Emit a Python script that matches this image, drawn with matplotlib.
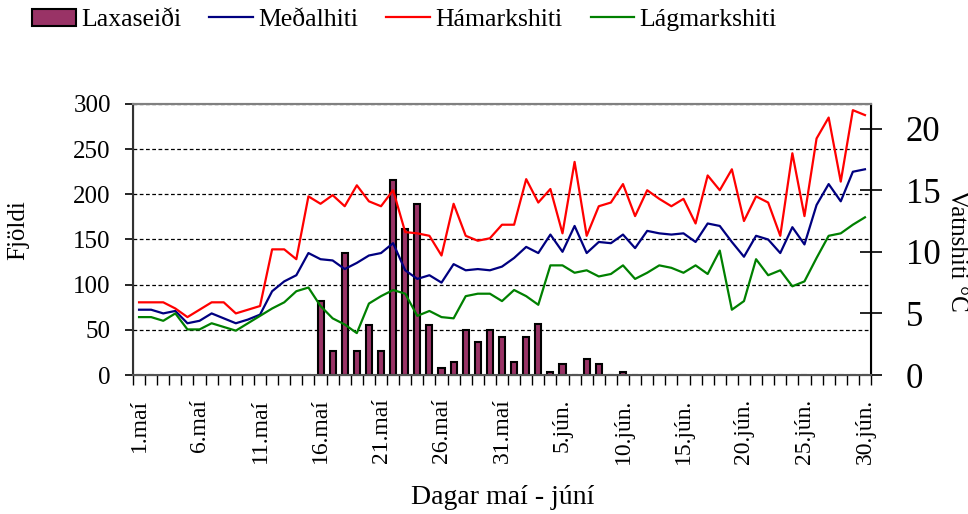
import numpy as np
import matplotlib
matplotlib.use("Agg")
import matplotlib.pyplot as plt

plt.rcParams['font.family'] = ['Liberation Serif', 'DejaVu Serif']

# --- data ---
day_labels = ["1.maí", "6.maí", "11.maí", "16.maí", "21.maí", "26.maí", "31.maí",
              "5.jún.", "10.jún.", "15.jún.", "20.jún.", "25.jún.", "30.jún."]

laxaseidi = [0, 0, 0, 0, 0, 0, 0, 0, 0, 0, 0, 0, 0, 0, 0,
             82, 27, 135, 27, 55, 27, 216, 162, 189, 55, 8, 14, 50, 36, 50,
             42, 14, 42, 56, 3, 12, 0, 18, 12, 0, 3,
             0, 0, 0, 0, 0, 0, 0, 0, 0, 0, 0, 0, 0, 0, 0, 0, 0, 0, 0, 0]

medalhiti = [5.3, 5.3, 5.0, 5.2, 4.2, 4.4, 5.0, 4.6, 4.2, 4.5, 4.9,
             6.8, 7.6, 8.1, 9.9, 9.4, 9.3, 8.6, 9.1, 9.7, 9.9,
             10.7, 8.5, 7.8, 8.1, 7.5, 9.0, 8.5, 8.6, 8.5, 8.8,
             9.5, 10.4, 9.9, 11.4, 10.0, 12.1, 9.9, 10.8, 10.7, 11.4,
             10.3, 11.7, 11.5, 11.4, 11.5, 10.8, 12.3, 12.1, 10.8, 9.6,
             11.3, 11.0, 9.9, 12.0, 10.6, 13.8, 15.5, 14.1, 16.5, 16.7]

hamarkshiti = [5.9, 5.9, 5.9, 5.4, 4.7, 5.3, 5.9, 5.9, 5.0, 5.3, 5.6,
               10.2, 10.2, 9.4, 14.5, 13.9, 14.6, 13.7, 15.4, 14.1, 13.7,
               15.0, 11.6, 11.5, 11.3, 9.7, 13.9, 11.3, 10.9, 11.1, 12.2,
               12.2, 15.9, 14.0, 15.1, 11.5, 17.3, 11.3, 13.7, 14.0, 15.5,
               12.9, 15.0, 14.3, 13.7, 14.3, 12.3, 16.2, 15.0, 16.7, 12.5,
               14.5, 14.0, 11.3, 18.0, 12.9, 19.2, 20.9, 15.7, 21.5, 21.1]

lagmarkshiti = [4.7, 4.7, 4.4, 5.0, 3.7, 3.7, 4.2, 3.9, 3.6, 4.2, 4.8,
                5.4, 5.9, 6.8, 7.1, 5.6, 4.6, 4.1, 3.4, 5.8, 6.4,
                6.9, 6.6, 4.8, 5.2, 4.7, 4.6, 6.4, 6.6, 6.6, 6.0,
                6.9, 6.4, 5.7, 8.9, 8.9, 8.3, 8.5, 8.0, 8.2, 8.9,
                7.8, 8.3, 8.9, 8.7, 8.3, 8.9, 8.2, 10.1, 5.3, 6.0,
                9.4, 8.1, 8.5, 7.2, 7.6, 9.5, 11.3, 11.5, 12.2, 12.8]

x = np.arange(len(laxaseidi))

fig = plt.figure(figsize=(9.68, 5.14), dpi=100)
ax = fig.add_axes([133 / 968, 1 - 375 / 514, (871 - 133) / 968, (375 - 104) / 514])
ax2 = ax.twinx()

# bars on the left axis
bars = ax.bar(x, laxaseidi, width=0.5, color='#993366', edgecolor='black',
              linewidth=1.5, label='Laxaseiði', zorder=3)
ax.set_ylim(0, 300)
ax.set_yticks(range(0, 301, 50))
ax.set_xlim(-0.5, len(x) - 0.5)
ax.set_axisbelow(True)
ax.yaxis.grid(True, color='black', linestyle=(0, (3, 2)), linewidth=0.9)
ax.tick_params(axis='y', labelsize=18, direction='out', length=6, width=1.2, pad=10)

# x axis: category ticks between days, labels every 5 days
ax.set_xticks(np.arange(0, len(x), 5))
ax.set_xticklabels(day_labels, rotation=90, fontsize=17)
ax.set_xticks(np.arange(-0.5, len(x), 1), minor=True)
ax.tick_params(axis='x', which='major', length=0, pad=17)
ax.tick_params(axis='x', which='minor', length=7, width=1.0, direction='out')

# temperature lines on the right axis
l1, = ax2.plot(x, medalhiti, color='#000080', linewidth=1.6, label='Meðalhiti')
l2, = ax2.plot(x, hamarkshiti, color='#ff0000', linewidth=1.6, label='Hámarkshiti')
l3, = ax2.plot(x, lagmarkshiti, color='#008000', linewidth=1.6, label='Lágmarkshiti')
ax2.set_ylim(0, 22)
ax2.set_yticks(range(0, 21, 5))
ax2.tick_params(axis='y', labelsize=25, direction='inout', length=16, width=1.2, pad=17)

ax.spines['top'].set_color('#808080')
ax2.spines['top'].set_color('#808080')
ax.spines['top'].set_linewidth(1.5)
ax2.spines['top'].set_linewidth(1.5)
ax2.spines['bottom'].set_color('#555555')
ax2.spines['left'].set_color('#333333')
ax2.spines['right'].set_color('black')
for s in ['left', 'bottom', 'right']:
    ax2.spines[s].set_linewidth(1.5)

fig.text(18 / 968, 1 - 230 / 514, 'Fjöldi', rotation=90, fontsize=18,
         ha='center', va='center')
fig.text(957 / 968, 1 - 251 / 514, 'Vatnshiti °C', rotation=270, fontsize=18,
         ha='center', va='center')
fig.text(503 / 968, 1 - 497 / 514, 'Dagar maí - júní', fontsize=20,
         ha='center', va='center')

fig.legend(handles=[bars, l1, l2, l3], loc='center left',
           bbox_to_anchor=(32 / 968, 1 - 20 / 514), ncol=4, frameon=False,
           fontsize=18.5, handlelength=1.7, handletextpad=0.2,
           columnspacing=1.1, borderpad=0, borderaxespad=0)

fig.savefig('out.png', dpi=100)
